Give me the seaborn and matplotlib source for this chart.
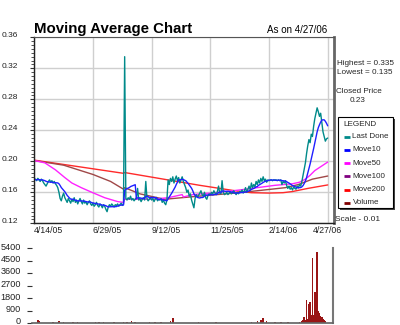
import numpy as np
import pandas as pd
import matplotlib
matplotlib.use("Agg")
import matplotlib.pyplot as plt
from matplotlib.lines import Line2D
from matplotlib.patches import Rectangle
from matplotlib.ticker import MultipleLocator, FixedLocator
from matplotlib.transforms import ScaledTranslation
import seaborn as sns

# ---- data -------------------------------------------------------------
date_ticks = [0, 50, 100, 150, 200, 250]
date_labels = ["4/14/05", "6/29/05", "9/12/05", "11/25/05", "2/14/06", "4/27/06"]

# daily last-done price, one value per trading day
last_done = [
    0.176, 0.177, 0.175, 0.178, 0.176, 0.174, 0.177, 0.175, 0.172, 0.170,
    0.168, 0.171, 0.174, 0.176, 0.173, 0.175, 0.172, 0.174, 0.171, 0.169,
    0.166, 0.160, 0.152, 0.149, 0.155, 0.159, 0.153, 0.150, 0.147, 0.152,
    0.149, 0.146, 0.151, 0.148, 0.153, 0.147, 0.150, 0.145, 0.149, 0.152,
    0.148, 0.145, 0.150, 0.146, 0.148, 0.144, 0.147, 0.149, 0.145, 0.143,
    0.146, 0.142, 0.144, 0.147, 0.143, 0.141, 0.145, 0.143, 0.140, 0.144,
    0.142, 0.138, 0.135, 0.141, 0.144, 0.142, 0.145, 0.143, 0.141, 0.144,
    0.143, 0.145, 0.142, 0.144, 0.146, 0.143, 0.145, 0.335, 0.152, 0.150,
    0.153, 0.151, 0.155, 0.150, 0.152, 0.149, 0.151, 0.153, 0.165, 0.150,
    0.152, 0.148, 0.151, 0.153, 0.150, 0.174, 0.152, 0.149, 0.151, 0.153,
    0.150, 0.152, 0.148, 0.151, 0.153, 0.149, 0.151, 0.150, 0.152, 0.147,
    0.150, 0.146, 0.144, 0.150, 0.176, 0.170, 0.178, 0.174, 0.180, 0.172,
    0.177, 0.181, 0.175, 0.179, 0.172, 0.176, 0.180, 0.174, 0.170, 0.166,
    0.160, 0.163, 0.155, 0.158, 0.150, 0.145, 0.140, 0.152, 0.157, 0.154,
    0.156, 0.159, 0.162, 0.157, 0.155, 0.160, 0.153, 0.151, 0.156, 0.158,
    0.157, 0.160, 0.158, 0.162, 0.159, 0.157, 0.161, 0.168, 0.159, 0.158,
    0.175, 0.160, 0.157, 0.158, 0.160, 0.157, 0.159, 0.161, 0.158, 0.160,
    0.162, 0.159, 0.157, 0.160, 0.158, 0.161, 0.160, 0.163, 0.159, 0.162,
    0.166, 0.160, 0.164, 0.168, 0.163, 0.172, 0.166, 0.170, 0.167, 0.174,
    0.170, 0.176, 0.172, 0.178, 0.174, 0.180, 0.175, 0.177, 0.173, 0.176,
    0.175, 0.176, 0.176, 0.175, 0.176, 0.176, 0.176, 0.175, 0.176, 0.175,
    0.176, 0.170, 0.174, 0.172, 0.175, 0.169, 0.165, 0.168, 0.164, 0.166,
    0.163, 0.167, 0.165, 0.164, 0.168, 0.166, 0.170, 0.168, 0.174, 0.182,
    0.190, 0.198, 0.210, 0.220, 0.228, 0.224, 0.235, 0.232, 0.245, 0.255,
    0.262, 0.269, 0.264, 0.258, 0.262, 0.250, 0.238, 0.232, 0.226, 0.229, 0.230,
]

# longer moving averages (they carry history from before the first day shown)
move50_day = [0, 9, 18, 26, 32, 40, 49, 60, 71, 76, 77, 90, 100, 114, 126, 127,
              135, 150, 163, 175, 190, 205, 220, 226, 231, 235, 239, 244, 250]
move50 = [0.201, 0.198, 0.189, 0.179, 0.172, 0.166, 0.160, 0.153, 0.148, 0.147,
          0.151, 0.151, 0.151, 0.153, 0.157, 0.154, 0.157, 0.159, 0.161, 0.163,
          0.166, 0.169, 0.171, 0.173, 0.177, 0.182, 0.188, 0.193, 0.199]

move100_day = [0, 25, 50, 65, 76, 77, 90, 111, 140, 171, 190, 214, 225, 237, 250]
move100 = [0.201, 0.195, 0.183, 0.174, 0.164, 0.166, 0.158, 0.151, 0.155, 0.159,
           0.162, 0.166, 0.170, 0.177, 0.181]

move200_day = [0, 76, 77, 141, 171, 185, 200, 212, 220, 233, 250]
move200 = [0.2015, 0.1845, 0.1855, 0.169, 0.162, 0.1595, 0.159, 0.1595, 0.161,
           0.165, 0.1695]

volume_day = [3, 4, 16, 21, 25, 33, 37, 52, 55, 59, 68, 76, 79, 83, 86, 98, 103,
              108, 116, 118, 140, 155, 185, 190, 193, 195, 198, 205, 210, 216,
              226, 228, 229, 230, 231, 232, 233, 234, 235, 236, 237, 238, 239,
              240, 241, 242, 243, 244, 245, 246, 247, 248]
volume = [200, 120, 60, 120, 60, 50, 50, 60, 50, 60, 80, 70, 100, 150, 60, 50, 60,
          50, 120, 380, 40, 50, 60, 120, 200, 380, 150, 100, 80, 60,
          100, 150, 250, 400, 250, 1680, 300, 1340, 1490, 600, 4650, 600, 2230,
          500, 5130, 860, 700, 540, 420, 320, 220, 120]

# ---- styling ----------------------------------------------------------
sns.set_theme(style="white")
plt.rcParams["font.family"] = ["Liberation Sans", "DejaVu Sans"]

C_LAST = "#008a8a"
C_M10 = "#2020ff"
C_M50 = "#ff22ff"
C_M100 = "#a04848"
C_M200 = "#ff2a2a"
C_VOL = "#991515"
GRID = "#cfcfcf"

W, H = 400, 325
PX_PER_DAY = (327.7 - 34.3) / 250
fig = plt.figure(figsize=(W / 100, H / 100), dpi=100)
fig.patch.set_facecolor("white")


def fx(px):
    return px / W


def fy(py):
    return 1 - py / H


days = np.arange(len(last_done))
price = pd.DataFrame({"day": days, "last": last_done})
price["move10"] = price["last"].rolling(10, min_periods=1).mean()

# ---- price panel ------------------------------------------------------
ax = fig.add_axes([fx(34.3), fy(223.3), (334 - 34.3) / W, (223.3 - 37.3) / H])
ax.set_facecolor("white")
sns.lineplot(x=move200_day, y=move200, ax=ax, color=C_M200, lw=1.0)
sns.lineplot(x=move100_day, y=move100, ax=ax, color=C_M100, lw=1.0)
sns.lineplot(x=move50_day, y=move50, ax=ax, color=C_M50, lw=1.0)
sns.lineplot(data=price, x="day", y="last", ax=ax, color=C_LAST, lw=1.0)
sns.lineplot(data=price, x="day", y="move10", ax=ax, color=C_M10, lw=1.0)

ax.set_xlim(0, (334 - 34.3) / PX_PER_DAY)
ax.set_ylim(0.12, 0.36)
ax.set_xlabel("")
ax.set_ylabel("")
yt = [0.12, 0.16, 0.20, 0.24, 0.28, 0.32, 0.36]
ax.yaxis.set_major_locator(FixedLocator(yt))
ax.set_yticklabels([f"{v:.2f}" for v in yt])
ax.yaxis.set_minor_locator(MultipleLocator(0.005))
ax.xaxis.set_major_locator(FixedLocator(date_ticks))
ax.set_xticklabels(date_labels)
ax.grid(True, which="major", color=GRID, lw=1.0)
ax.set_axisbelow(True)
ax.tick_params(axis="y", which="major", left=True, length=3, width=0.8,
               color="#333333", labelsize=6, pad=9, labelcolor="#222222")
ax.tick_params(axis="y", which="minor", left=True, length=2, width=0.6,
               color="#333333")
ax.tick_params(axis="x", length=0, labelsize=6.3, pad=2, labelcolor="#222222")
for lab in ax.get_xticklabels():
    lab.set_ha("left")
ax.get_xticklabels()[-1].set_ha("center")
for side in ["left", "bottom"]:
    ax.spines[side].set_color("#222222")
    ax.spines[side].set_linewidth(1.0)
ax.spines["top"].set_color("#555555")
ax.spines["top"].set_linewidth(0.8)
ax.spines["right"].set_color("#666666")
ax.spines["right"].set_linewidth(2.0)

# ---- volume panel -----------------------------------------------------
axv = fig.add_axes([fx(32), fy(323), (333.3 - 32) / W, (323 - 248) / H])
axv.set_facecolor("white")
axv.bar(volume_day, volume, width=1.3, color=C_VOL, edgecolor="none")
axv.set_xlim(-(34.3 - 32) / PX_PER_DAY, (333.3 - 34.3) / PX_PER_DAY)
axv.set_ylim(0, 5400)
axv.yaxis.set_major_locator(FixedLocator(range(0, 5401, 900)))
axv.set_xticks([])
axv.tick_params(axis="y", left=True, length=3.5, width=0.8, color="#333333",
                labelsize=6.6, pad=4.5, labelcolor="#222222")
axv.spines["left"].set_visible(False)
axv.spines["top"].set_visible(False)
axv.spines["bottom"].set_color("#666666")
axv.spines["right"].set_color("#777777")
axv.spines["right"].set_linewidth(1.5)

# ---- headings and side notes ------------------------------------------
fig.text(fx(34.3), fy(33.3), "Moving Average Chart", fontsize=10.8,
         fontweight="bold", va="baseline", ha="left", color="black")
fig.text(fx(327.3), fy(32.7), "As on 4/27/06", fontsize=7.0, va="baseline",
         ha="right", color="black")
fig.text(fx(337), fy(65), "Highest = 0.335", fontsize=5.9, va="baseline",
         ha="left")
fig.text(fx(337), fy(74), "Lowest = 0.135", fontsize=5.9, va="baseline",
         ha="left")
fig.text(fx(336), fy(92.7), "Closed Price", fontsize=5.9, va="baseline",
         ha="left")
fig.text(fx(358), fy(101.7), "0.23", fontsize=5.9, va="baseline",
         ha="center")
fig.text(fx(335), fy(221), "Scale - 0.01", fontsize=6.0, va="baseline",
         ha="left")

# ---- legend box -------------------------------------------------------
lx0, ly0, lx1, ly1 = 338, 117, 393, 208
fig.add_artist(Rectangle((fx(lx0 + 2), fy(ly1 + 2)), (lx1 - lx0) / W,
                         (ly1 - ly0) / H, transform=fig.transFigure,
                         facecolor="#444444", edgecolor="none", zorder=5))
fig.add_artist(Rectangle((fx(lx0), fy(ly1)), (lx1 - lx0) / W, (ly1 - ly0) / H,
                         transform=fig.transFigure, facecolor="white",
                         edgecolor="black", linewidth=0.8, zorder=6))
fig.text(fx(360), fy(124), "LEGEND", fontsize=5.9, ha="center", va="center",
         zorder=7)
legend_items = [("Last Done", C_LAST), ("Move10", "#0000ff"),
                ("Move50", "#ff00ff"), ("Move100", "#800080"),
                ("Move200", "#ff0000"), ("Volume", "#800000")]
for k, (name, col) in enumerate(legend_items):
    yy = 136.7 + k * 13.2
    fig.add_artist(Line2D([fx(344), fx(350)], [fy(yy), fy(yy)],
                          transform=fig.transFigure, color=col, lw=2.0,
                          solid_capstyle="butt", zorder=7))
    fig.text(fx(352.5), fy(yy), name, fontsize=5.8, ha="left", va="center",
             zorder=7)

# nudge tick labels upward so they sit just above their marks
for lab in ax.get_yticklabels():
    lab.set_transform(lab.get_transform()
                      + ScaledTranslation(0, 2.5 / 100, fig.dpi_scale_trans))
for lab in axv.get_yticklabels():
    lab.set_transform(lab.get_transform()
                      + ScaledTranslation(0, 2.0 / 100, fig.dpi_scale_trans))

fig.savefig("out.png", dpi=100)
